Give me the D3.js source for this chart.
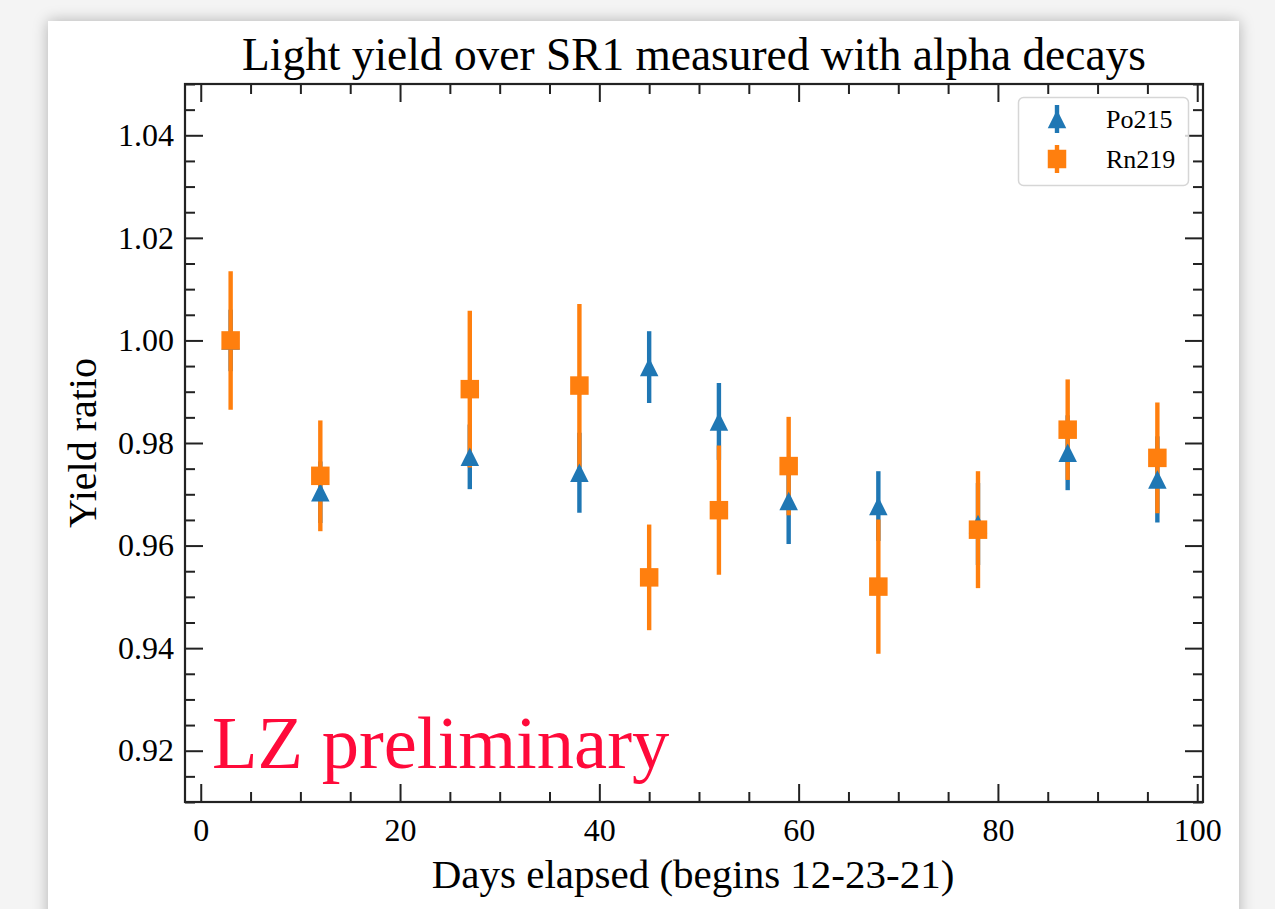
<!DOCTYPE html>
<html>
<head>
<meta charset="utf-8">
<script src="https://d3js.org/d3.v7.min.js"></script>
<style>
  body { margin: 0; background: #f4f4f4; width: 1275px; height: 909px; overflow: hidden; position: relative; }
  #card { position: absolute; left: 48px; top: 21px; width: 1191px; height: 920px; background: #fff;
          box-shadow: 0 0 14px rgba(0, 0, 0, 0.28); }
  svg { position: absolute; left: 0; top: 0; }
  text { font-family: "Liberation Serif", "Times New Roman", serif; fill: #000; }
</style>
</head>
<body>
<div id="card"></div>
<script>
// Days since start of SR1 and yield ratios
const days = [3, 12, 27, 38, 45, 52, 59, 68, 78, 87, 96];
const po215 = [1.000, 0.9704, 0.9773, 0.9742, 0.9948, 0.9842, 0.9687, 0.9677, 0.9642, 0.9781, 0.9729];
const po215Err = [0.006, 0.006, 0.0063, 0.0078, 0.0070, 0.0075, 0.0084, 0.0068, 0.008, 0.0073, 0.0084];
const rn219 = [1.000, 0.9736, 0.9905, 0.9912, 0.9538, 0.9669, 0.9755, 0.9520, 0.9631, 0.9826, 0.9771];
const rn219Err = [0.0135, 0.0108, 0.0153, 0.0159, 0.0103, 0.0126, 0.0096, 0.0131, 0.0114, 0.0098, 0.0108];

const xTicks = [0, 20, 40, 60, 80, 100];
const yTicks = [0.92, 0.94, 0.96, 0.98, 1.00, 1.02, 1.04];

const series = [
  { name: 'Po215', color: '#1f77b4', shape: 'triangle', values: po215, errors: po215Err },
  { name: 'Rn219', color: '#ff7f0e', shape: 'square', values: rn219, errors: rn219Err }
];

const W = 1275, H = 909;
const frame = { left: 185, right: 1203, top: 84, bottom: 802 };

const x = d3.scaleLinear().domain([-1.58, 100.58]).range([frame.left, frame.right]);
const y = d3.scaleLinear().domain([0.91, 1.05]).range([frame.bottom, frame.top]);

const svg = d3.select('body').append('svg')
  .attr('width', W)
  .attr('height', H);

const xMinor = d3.range(0, 101, 5).filter(d => d % 20 !== 0);
const yMinor = d3.range(0.91, 1.0501, 0.005).map(d => +d.toFixed(3)).filter(d => Math.round(d * 1000) % 20 !== 0);

// Axes with inward ticks on all four sides
const styleAxis = g => {
  g.select('.domain').remove();
  g.selectAll('line').attr('stroke', '#222').attr('stroke-width', 2);
  g.selectAll('text').style('font-size', '32px').attr('fill', '#000');
};

svg.append('g')
  .attr('transform', `translate(0,${frame.bottom})`)
  .call(d3.axisBottom(x).tickValues(xTicks).tickSize(-18).tickPadding(16).tickFormat(d3.format('d')))
  .call(styleAxis);
svg.append('g')
  .attr('transform', `translate(0,${frame.bottom})`)
  .call(d3.axisBottom(x).tickValues(xMinor).tickSize(-10).tickFormat(''))
  .call(styleAxis);
svg.append('g')
  .attr('transform', `translate(0,${frame.top})`)
  .call(d3.axisTop(x).tickValues(xTicks).tickSize(-18).tickFormat(''))
  .call(styleAxis);
svg.append('g')
  .attr('transform', `translate(0,${frame.top})`)
  .call(d3.axisTop(x).tickValues(xMinor).tickSize(-10).tickFormat(''))
  .call(styleAxis);

svg.append('g')
  .attr('transform', `translate(${frame.left},0)`)
  .call(d3.axisLeft(y).tickValues(yTicks).tickSize(-18).tickPadding(11).tickFormat(d3.format('.2f')))
  .call(styleAxis);
svg.append('g')
  .attr('transform', `translate(${frame.left},0)`)
  .call(d3.axisLeft(y).tickValues(yMinor).tickSize(-10).tickFormat(''))
  .call(styleAxis);
svg.append('g')
  .attr('transform', `translate(${frame.right},0)`)
  .call(d3.axisRight(y).tickValues(yTicks).tickSize(-18).tickFormat(''))
  .call(styleAxis);
svg.append('g')
  .attr('transform', `translate(${frame.right},0)`)
  .call(d3.axisRight(y).tickValues(yMinor).tickSize(-10).tickFormat(''))
  .call(styleAxis);

svg.append('rect')
  .attr('x', frame.left)
  .attr('y', frame.top)
  .attr('width', frame.right - frame.left)
  .attr('height', frame.bottom - frame.top)
  .attr('fill', 'none')
  .attr('stroke', '#222')
  .attr('stroke-width', 2.2);

// Markers
const markerPath = (shape, s) => {
  const h = s / 2;
  if (shape === 'triangle') return `M0,${-h}L${h},${h}L${-h},${h}Z`;
  return `M${-h},${-h}H${h}V${h}H${-h}Z`;
};

// error bars of both series first, then the markers (like matplotlib zorder)
const plot = svg.append('g');
series.forEach(s => {
  plot.append('g').selectAll('line')
    .data(days.map((d, i) => ({ d, v: s.values[i], e: s.errors[i] })))
    .join('line')
      .attr('x1', p => x(p.d))
      .attr('x2', p => x(p.d))
      .attr('y1', p => y(p.v - p.e))
      .attr('y2', p => y(p.v + p.e))
      .attr('stroke', s.color)
      .attr('stroke-width', 4.4);
});
series.forEach(s => {
  plot.append('g').selectAll('path')
    .data(days.map((d, i) => ({ d, v: s.values[i] })))
    .join('path')
      .attr('transform', p => `translate(${x(p.d)},${y(p.v)})`)
      .attr('d', markerPath(s.shape, 18.5))
      .attr('fill', s.color);
});

// Legend
const legend = svg.append('g');
legend.append('rect')
  .attr('x', 1018.5)
  .attr('y', 97.5)
  .attr('width', 170)
  .attr('height', 88)
  .attr('rx', 5)
  .attr('fill', '#fff')
  .attr('fill-opacity', 0.8)
  .attr('stroke', '#d6d6d6')
  .attr('stroke-width', 1.5);

series.forEach((s, i) => {
  const cy = 119 + i * 40;
  const item = legend.append('g').attr('transform', `translate(1057,${cy})`);
  item.append('line')
    .attr('y1', -14).attr('y2', 14)
    .attr('stroke', s.color).attr('stroke-width', 4.4);
  item.append('path')
    .attr('d', markerPath(s.shape, 18.5))
    .attr('fill', s.color);
  legend.append('text')
    .attr('x', 1106)
    .attr('y', cy + 9)
    .style('font-size', '26px')
    .text(s.name);
});

// Titles and labels
svg.append('text')
  .attr('x', (frame.left + frame.right) / 2)
  .attr('y', 70)
  .attr('text-anchor', 'middle')
  .style('font-size', '45.4px')
  .text('Light yield over SR1 measured with alpha decays');

svg.append('text')
  .attr('x', (frame.left + frame.right) / 2 - 1)
  .attr('y', 888)
  .attr('text-anchor', 'middle')
  .style('font-size', '41px')
  .text('Days elapsed (begins 12-23-21)');

svg.append('text')
  .attr('transform', `translate(96,${(frame.top + frame.bottom) / 2}) rotate(-90)`)
  .attr('text-anchor', 'middle')
  .style('font-size', '40px')
  .text('Yield ratio');

svg.append('text')
  .attr('x', 212)
  .attr('y', 768)
  .style('font-size', '74.5px')
  .style('fill', '#ff0a3a')
  .text('LZ preliminary');
</script>
</body>
</html>
